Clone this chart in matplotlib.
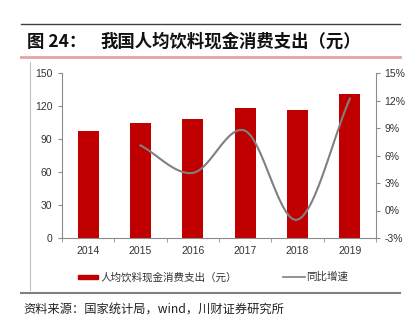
import numpy as np
import matplotlib
matplotlib.use('Agg')
import matplotlib.pyplot as plt
from matplotlib.patches import Rectangle
from matplotlib.lines import Line2D

plt.rcParams['font.family'] = ['Noto Sans CJK SC', 'DejaVu Sans']

# 数据
years = ['2014', '2015', '2016', '2017', '2018', '2019']
spend = [97.3, 104.3, 108.5, 117.9, 116.7, 130.9]
growth = [7.1, 4.1, 8.7, -1.0, 12.2]  # 2015-2019 同比增速 %
left_ticks = [0, 30, 60, 90, 120, 150]
right_ticks = [-3, 0, 3, 6, 9, 12, 15]

W, H = 410, 325
fig = plt.figure(figsize=(W / 100, H / 100), dpi=100)


def fx(px):
    return px / W


def fy(py):
    return 1 - py / H


# 平滑曲线（类似Excel的平滑线）
def smooth(x, y, n=30):
    x = np.asarray(x, float)
    y = np.asarray(y, float)
    px = np.concatenate([[2 * x[0] - x[1]], x, [2 * x[-1] - x[-2]]])
    py = np.concatenate([[2 * y[0] - y[1]], y, [2 * y[-1] - y[-2]]])
    xs, ys = [], []
    t = np.linspace(0, 1, n)
    for i in range(1, len(px) - 2):
        for P, out in (((px[i - 1], px[i], px[i + 1], px[i + 2]), xs),
                       ((py[i - 1], py[i], py[i + 1], py[i + 2]), ys)):
            a0, a1, a2, a3 = P
            out.extend(0.5 * ((2 * a1) + (-a0 + a2) * t + (2 * a0 - 5 * a1 + 4 * a2 - a3) * t ** 2
                              + (-a0 + 3 * a1 - 3 * a2 + a3) * t ** 3))
    return np.array(xs), np.array(ys)


num_font = ['Liberation Sans', 'DejaVu Sans']

ax = fig.add_axes([fx(62), fy(238), fx(376 - 62), fy(73) - fy(238)])
x = np.arange(len(years))
ax.bar(x, spend, width=0.4, color='#C00000', zorder=2)
ax.set_xlim(-0.5, len(years) - 0.5)
ax.set_ylim(0, 150)
ax.set_yticks(left_ticks)
ax.set_xticks(x)
ax.set_xticklabels(years, family=num_font)
ax.set_yticklabels([str(v) for v in left_ticks], family=num_font)
ax.set_xticks(np.arange(-0.5, len(years), 1), minor=True)
ax.tick_params(axis='x', which='major', length=0, labelsize=7.5, colors='#333333', pad=6)
ax.tick_params(axis='x', which='minor', length=3, color='#8C8C8C', direction='out')
ax.tick_params(axis='y', length=3, color='#8C8C8C', labelsize=7.5, labelcolor='#333333', pad=4)
for s in ['top', 'right']:
    ax.spines[s].set_visible(False)
for s in ['left', 'bottom']:
    ax.spines[s].set_color('#8C8C8C')
    ax.spines[s].set_linewidth(0.8)

ax2 = ax.twinx()
sx, sy = smooth(x[1:], growth)
ax2.plot(sx, sy, color='#808080', lw=1.5, zorder=3)
ax2.set_ylim(-3, 15)
ax2.set_yticks(right_ticks)
ax2.set_yticklabels([f'{v}%' for v in right_ticks], family=num_font)
ax2.tick_params(axis='y', length=3, color='#8C8C8C', labelsize=7.5, labelcolor='#333333', pad=3)
for s in ['top', 'left', 'bottom']:
    ax2.spines[s].set_visible(False)
ax2.spines['right'].set_color('#8C8C8C')
ax2.spines['right'].set_linewidth(0.8)

# 标题及边框线
fig.add_artist(Line2D([fx(21), fx(400)], [fy(24), fy(24)], color='#404040', lw=1))
fig.add_artist(Line2D([fx(21), fx(400)], [fy(57), fy(57)], color='#E8A3A3', lw=2))
fig.add_artist(Line2D([fx(30), fx(30)], [fy(62), fy(290)], color='#BFBFBF', lw=0.8))
fig.add_artist(Line2D([fx(21), fx(400)], [fy(293), fy(293)], color='#808080', lw=1.5))
fig.text(fx(27), fy(42), '图 24：', fontsize=12.5, fontweight='bold', va='center', color='#111111')
fig.text(fx(100), fy(42), '我国人均饮料现金消费支出（元）', fontsize=12.5, fontweight='bold',
         va='center', color='#111111')

# 图例
fig.add_artist(Rectangle((fx(78), fy(279)), fx(20), fy(275) - fy(279), color='#C00000'))
fig.text(fx(100), fy(277), '人均饮料现金消费支出（元）', fontsize=7.6, va='center', color='#333333')
fig.add_artist(Line2D([fx(283), fx(305)], [fy(277), fy(277)], color='#808080', lw=1.2))
fig.text(fx(306), fy(277), '同比增速', fontsize=7.6, va='center', color='#333333')

fig.text(fx(23), fy(310), '资料来源：国家统计局，wind，川财证券研究所', fontsize=8.8, style='italic',
         va='center', color='#222222')

fig.savefig('out.png', dpi=100)
